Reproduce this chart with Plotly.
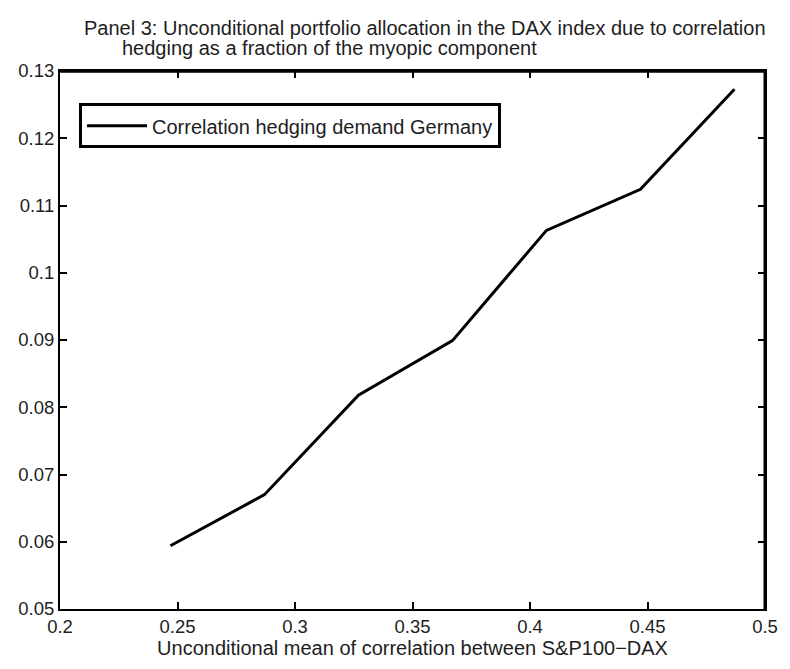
import plotly.graph_objects as go

# Mean S&P100-DAX correlation and the resulting hedging demand (fraction of myopic component)
mean_corr = [0.247, 0.287, 0.327, 0.367, 0.407, 0.447, 0.487]
hedging_demand = [0.0594, 0.0670, 0.0818, 0.0899, 0.1063, 0.1124, 0.1273]

x_ticks = [0.2, 0.25, 0.3, 0.35, 0.4, 0.45, 0.5]
x_tick_labels = ["0.2", "0.25", "0.3", "0.35", "0.4", "0.45", "0.5"]
y_ticks = [0.05, 0.06, 0.07, 0.08, 0.09, 0.1, 0.11, 0.12, 0.13]
y_tick_labels = ["0.05", "0.06", "0.07", "0.08", "0.09", "0.1", "0.11", "0.12", "0.13"]

FONT = "Liberation Sans, Arial, sans-serif"
TEXT = "#1e1e1e"

fig = go.Figure()
fig.add_trace(go.Scatter(
    x=mean_corr, y=hedging_demand, mode="lines",
    line=dict(color="black", width=3),
    name="Correlation hedging demand Germany",
))

axis_common = dict(
    showgrid=False, zeroline=False, showline=True, linecolor="black", linewidth=2,
    mirror="ticks", ticks="inside", ticklen=7, tickwidth=1.5, tickcolor="black",
    tickfont=dict(family=FONT, size=18.5, color=TEXT),
)

fig.update_layout(
    width=790, height=669,
    margin=dict(l=60, r=16, t=71, b=60),
    paper_bgcolor="white", plot_bgcolor="white",
    showlegend=True,
    legend=dict(
        x=0.027, y=0.94, xanchor="left", yanchor="top",
        bordercolor="black", borderwidth=3, bgcolor="white",
        itemwidth=60,
        font=dict(family=FONT, size=20, color=TEXT),
    ),
    xaxis=dict(range=[0.2, 0.5], tickvals=x_ticks, ticktext=x_tick_labels, **axis_common),
    yaxis=dict(range=[0.05, 0.13], tickvals=y_ticks, ticktext=y_tick_labels, **axis_common),
)
fig.update_xaxes(title=dict(text="Unconditional mean of correlation between S&P100\u2212DAX",
                            font=dict(family=FONT, size=20, color=TEXT), standoff=3))

# heavier top and right edges of the axes box
fig.add_shape(type="line", xref="paper", yref="paper", x0=0, x1=1, y0=1, y1=1,
              line=dict(color="black", width=3.5))
fig.add_shape(type="line", xref="paper", yref="paper", x0=1, x1=1, y0=0, y1=1,
              line=dict(color="black", width=3))

fig.add_annotation(
    text="Panel 3: Unconditional portfolio allocation in the DAX index due to correlation",
    xref="paper", yref="paper", x=0.031, y=1.08, xanchor="left", yanchor="middle",
    showarrow=False, font=dict(family=FONT, size=20, color=TEXT),
)
fig.add_annotation(
    text="hedging as a fraction of the myopic component",
    xref="paper", yref="paper", x=0.085, y=1.042, xanchor="left", yanchor="middle",
    showarrow=False, font=dict(family=FONT, size=20, color=TEXT),
)

fig.write_html("out.html")
